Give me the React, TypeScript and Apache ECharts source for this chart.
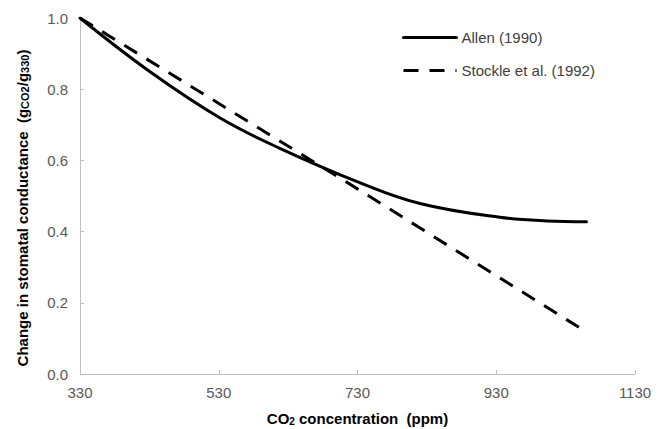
import React, { useEffect, useRef } from "react";
import * as echarts from "echarts";

const xTicks = [330, 530, 730, 930, 1130];
const allenX = [330, 431, 532, 618, 734, 820, 935, 1003, 1060];
const allenY = [1.0, 0.849, 0.719, 0.634, 0.537, 0.479, 0.44, 0.43, 0.428];
const stockleX = [330, 730, 1050];
const stockleY = [1.0, 0.52, 0.13];
const seriesNames = ["Allen (1990)", "Stockle et al. (1992)"];

const FONT = "'Liberation Sans', Arial, sans-serif";

export default function App() {
  const ref = useRef<HTMLDivElement>(null);
  useEffect(() => {
    document.body.style.margin = "0";
    const chart = echarts.init(ref.current!, undefined, { renderer: "svg" });
    const axisColor = "#BFBFBF";
    chart.setOption({
      animation: false,
      backgroundColor: "#ffffff",
      textStyle: { fontFamily: FONT },
      grid: { left: 80, right: 28, top: 18, bottom: 55, containLabel: false, outerBoundsMode: "none" },
      legend: {
        data: seriesNames,
        orient: "vertical",
        left: 402,
        top: 30,
        padding: 0,
        itemWidth: 53,
        itemHeight: 14,
        itemGap: 18,
        itemStyle: { opacity: 0 },
        lineStyle: { width: 3 },
        textStyle: { color: "#404040", fontSize: 15, fontFamily: FONT },
      },
      xAxis: {
        type: "value",
        min: 330,
        max: 1130,
        name: "{b|CO}{s|2}{b| concentration  (ppm)}",
        nameLocation: "middle",
        nameGap: 34,
        nameTextStyle: {
          rich: {
            b: { fontSize: 15, fontWeight: "bold", color: "#000", fontFamily: FONT, lineHeight: 18, verticalAlign: "bottom" },
            s: { fontSize: 10, fontWeight: "bold", color: "#000", fontFamily: FONT, lineHeight: 10, verticalAlign: "bottom" },
          },
        },
        axisLine: { lineStyle: { color: axisColor, width: 1 } },
        axisTick: { inside: true, length: 4, lineStyle: { color: axisColor }, customValues: xTicks },
        axisLabel: {
          customValues: xTicks,
          color: "#595959",
          fontSize: 15,
          margin: 11,
          fontFamily: FONT,
          formatter: (v: number) => String(v),
        },
        splitLine: { show: false },
      },
      yAxis: {
        type: "value",
        min: 0,
        max: 1,
        interval: 0.2,
        axisLine: { show: true, lineStyle: { color: axisColor, width: 1 } },
        axisTick: { show: true, inside: true, length: 4, lineStyle: { color: axisColor } },
        axisLabel: { color: "#595959", fontSize: 15, margin: 12, fontFamily: FONT, formatter: (v: number) => v.toFixed(1) },
        splitLine: { show: false },
      },
      graphic: [
        {
          type: "text",
          x: 21,
          y: 208,
          rotation: Math.PI / 2,
          style: {
            text: "{b|Change in stomatal conductance  (g}{s|CO2}{b|/g}{s|330}{b|)}",
            align: "center",
            verticalAlign: "middle",
            rich: {
              b: { fontSize: 15, fontWeight: "bold", fill: "#000", fontFamily: FONT, lineHeight: 18, verticalAlign: "bottom" },
              s: { fontSize: 11, fontWeight: "bold", fill: "#000", fontFamily: FONT, lineHeight: 11, verticalAlign: "bottom" },
            },
          },
        },
      ],
      series: [
        {
          name: seriesNames[0],
          type: "line",
          data: allenX.map((x, i) => [x, allenY[i]]),
          smooth: 0.4,
          showSymbol: false,
          symbol: "none",
          lineStyle: { color: "#000", width: 3, type: "solid", cap: "round" },
          itemStyle: { color: "#000" },
        },
        {
          name: seriesNames[1],
          type: "line",
          data: stockleX.map((x, i) => [x, stockleY[i]]),
          showSymbol: false,
          symbol: "none",
          lineStyle: { color: "#000", width: 3, type: [15, 11] },
          itemStyle: { color: "#000" },
        },
      ],
    });
    return () => chart.dispose();
  }, []);
  return <div ref={ref} style={{ position: "fixed", left: 0, top: 0, width: 663, height: 429 }} />;
}
